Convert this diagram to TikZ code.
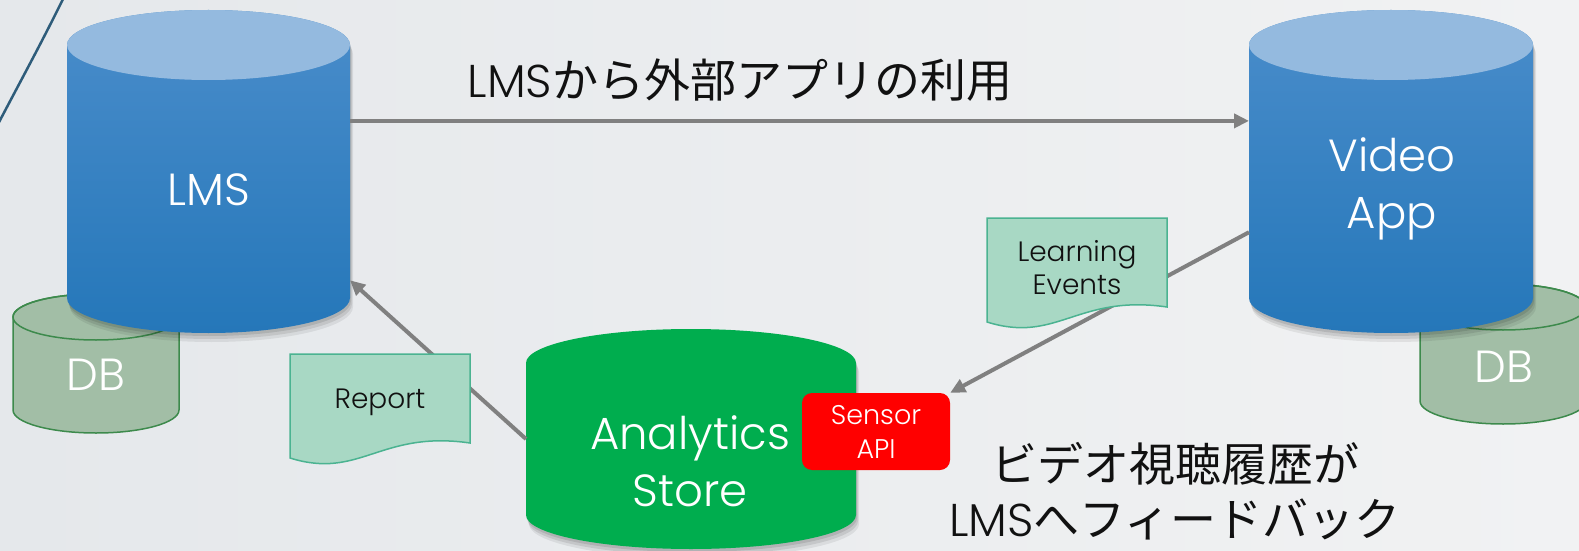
\documentclass[tikz,border=0pt]{standalone}
\usepackage{fontspec}
\setmainfont{Poppins Light}
\newfontfamily\latinfont{Poppins Light}
\newfontfamily\jpfont{Noto Sans CJK JP}
\usetikzlibrary{arrows.meta,calc,shadows}

\definecolor{bgleft}{HTML}{E5E8EB}
\definecolor{bgright}{HTML}{F1F2F3}
\definecolor{decoline}{HTML}{2E5C7A}
\definecolor{lmstopc}{HTML}{94BADF}
\definecolor{lmsupper}{HTML}{4A8DCB}
\definecolor{lmslower}{HTML}{2577B9}
\definecolor{storegreen}{HTML}{00AD4E}
\definecolor{dbfillc}{HTML}{A2BEA6}
\definecolor{dblinec}{HTML}{3D8A4C}
\definecolor{docfillc}{HTML}{A8D8C4}
\definecolor{doclinec}{HTML}{4BB391}
\definecolor{sensorred}{HTML}{FF0000}
\definecolor{arrowgray}{HTML}{808080}
\definecolor{inkc}{HTML}{111111}

% body outline of a cylinder spanned by a named box node
\newcommand\drawcyl[4]{%
  \path[#4] (#1.north west) -- (#1.south west)
    arc[start angle=180,end angle=360,x radius=#2,y radius=#3]
    -- (#1.north east)
    arc[start angle=0,end angle=180,x radius=#2,y radius=#3] -- cycle;}

% document sheet with a wavy lower edge, from its top-left corner
\newcommand\docsheet[2]{%
  \draw[docstyle] (#1,#2) -- ({#1+180},#2) -- ({#1+180},{#2-89})
    .. controls ({#1+90},{#2-76}) and ({#1+70},{#2-126}) .. (#1,{#2-104}) -- cycle;}

\tikzset{
  spanbox/.style={inner sep=0pt, outer sep=0pt, draw=none},
  softshadow/.style={
    general shadow={fill=black, opacity=0.10, shadow xshift=1pt, shadow yshift=-3pt},
    general shadow={fill=black, opacity=0.09, shadow xshift=2pt, shadow yshift=-6pt},
    general shadow={fill=black, opacity=0.07, shadow xshift=3pt, shadow yshift=-9pt}},
  docstyle/.style={fill=docfillc, draw=doclinec, line width=1.5pt},
  dbstyle/.style={fill=dbfillc, draw=dblinec, line width=1.5pt},
  conn/.style={draw=arrowgray, line width=4pt, -{Triangle[length=15pt,width=14pt]}},
  bigwhite/.style={text=white, font=\fontsize{45}{57}\selectfont, align=center, inner sep=0pt},
  doctext/.style={text=inkc, font=\fontsize{28}{33}\selectfont, align=center, inner sep=0pt},
  sensorbox/.style={fill=sensorred, rounded corners=10pt, text=white,
    font=\fontsize{27}{34}\selectfont, align=center, inner sep=0pt},
  jptext/.style={text=inkc, font=\jpfont\fontsize{46}{55}\selectfont, align=center, inner sep=0pt},
}

\begin{document}
\begin{tikzpicture}[x=1pt,y=1pt]
\useasboundingbox (0,0) rectangle (1579,550);
\fill[left color=bgleft, right color=bgright] (0,0) rectangle (1579,550);

% theme stroke in the upper left corner
\draw[decoline, line width=2.5pt] (64,553) .. controls (42,508) and (20,468) .. (-3,424);

% boxes spanned by the cylinder bodies
\node[spanbox, minimum width=283pt, minimum height=253pt] (lms) at (208.5,378.5) {};
\node[spanbox, minimum width=284pt, minimum height=253pt] (video) at (1391,378.5) {};
\node[spanbox, minimum width=330pt, minimum height=152pt] (store) at (691,111) {};
\node[spanbox, minimum width=166pt, minimum height=93pt] (dbl) at (96,186.5) {};
\node[spanbox, minimum width=166pt, minimum height=94pt] (dbr) at (1503,196) {};

% databases behind the applications
\drawcyl{dbl}{83pt}{23pt}{dbstyle}
\draw[dblinec, line width=1.5pt] (dbl.north) ellipse [x radius=83pt, y radius=23pt];
\drawcyl{dbr}{83pt}{23pt}{dbstyle}
\draw[dblinec, line width=1.5pt] (dbr.north) ellipse [x radius=83pt, y radius=23pt];

% LMS and video application
\drawcyl{lms}{141.5pt}{35pt}{top color=lmsupper, bottom color=lmslower, softshadow}
\fill[lmstopc] (lms.north) ellipse [x radius=141.5pt, y radius=35pt];
\drawcyl{video}{142pt}{35pt}{top color=lmsupper, bottom color=lmslower, softshadow}
\fill[lmstopc] (video.north) ellipse [x radius=142pt, y radius=35pt];

% analytics store and its sensor endpoint
\drawcyl{store}{165pt}{34pt}{fill=storegreen, softshadow}
\node[sensorbox, minimum width=148pt, minimum height=77pt] (sensor) at (876,118.5) {Sensor\\API};

% connectors
\draw[conn] ($(lms.north east)!0.30!(lms.south east)$) -- ($(video.north west)!0.30!(video.south west)$);
\draw[conn] ($(video.north west)!0.74!(video.south west)$) -- (sensor.north east);
\draw[conn] (store.west) -- ($(lms.north east)!0.93!(lms.south east)$);

% documents carried along the connectors
\docsheet{290}{196}
\docsheet{987}{332}
\node[doctext] (report) at (380,148) {Report};
\node[doctext] (events) at (1077,282) {Learning\\Events};

% labels
\node[bigwhite] (lmstext) at (208.5,360) {LMS};
\node[bigwhite] (videotext) at (1392,361) {Video\\App};
\node[bigwhite] (dbltext) at (96,175) {DB};
\node[bigwhite] (dbrtext) at (1504,183) {DB};
\node[bigwhite] (storetext) at (690,89) {Analytics\\Store};

\node[jptext] (title) at (740,470) {{\latinfont LMS}から外部アプリの利用};
\node[jptext] (feedback) at (1175,59) {ビデオ視聴履歴が\\{\latinfont LMS}へフィードバック};
\end{tikzpicture}
\end{document}
